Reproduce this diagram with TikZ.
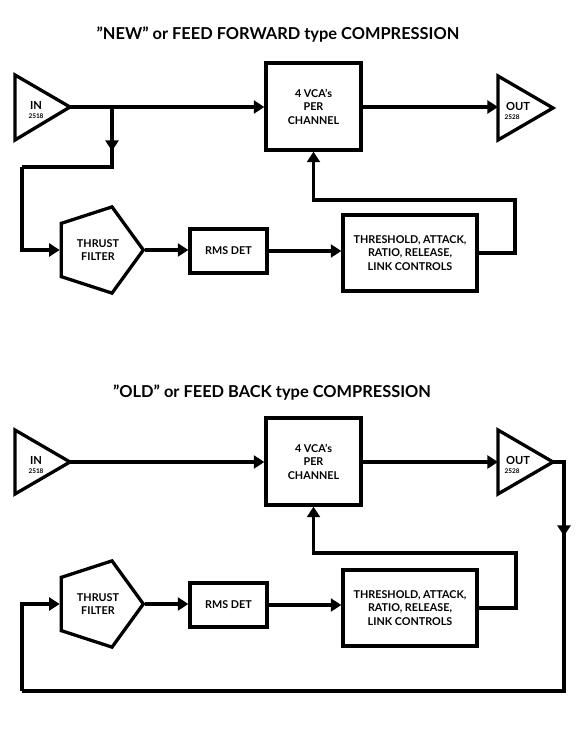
\documentclass[tikz,border=0pt]{standalone}
\usepackage{fontspec}
\setmainfont{Lato}
\usetikzlibrary{arrows.meta,shapes.geometric}

\begin{document}
\begin{tikzpicture}[x=0.03cm, y=-0.03cm, line width=2.8pt,
    flow/.style={-{Triangle[length=9pt,width=11pt]}},
    block/.style={rectangle, draw, fill=white, inner sep=0pt, align=center,
      font=\fontsize{9.2}{11.5}\selectfont\bfseries},
    filter/.style={regular polygon, regular polygon sides=5, shape border rotate=-90,
      draw, inner sep=0pt, minimum size=2.72cm, align=center,
      font=\fontsize{9.2}{11.5}\selectfont\bfseries},
    amplabel/.style={inner sep=0pt, align=center, font=\fontsize{9.5}{9}\selectfont\bfseries},
    heading/.style={font=\fontsize{14}{16}\selectfont\bfseries}]
  \useasboundingbox (0,0) rectangle (580,731);

  % feed forward
  \node[heading] (title1) at (278,35) {”NEW” or FEED FORWARD type COMPRESSION};
  \draw (15,75) -- (70,107) -- (15,140) -- cycle;
  \node[amplabel] (in1) at (36,110) {IN\\[-2pt]{\fontsize{5.5}{5}\selectfont 2518}};
  \coordinate (in1tip) at (70,107);
  \draw (498,76) -- (553,108) -- (498,140) -- cycle;
  \node[amplabel] (out1) at (518,111) {OUT\\[-2pt]{\fontsize{5.5}{5}\selectfont\hspace*{-10pt}2528}};
  \coordinate (out1in) at (498,107);
  \node[block, minimum width=2.85cm, minimum height=2.61cm] (vca1) at (313.5,106.5) {4 VCA’s\\PER\\CHANNEL};
  \node[filter] (filt1) at (98,250) {THRUST\\FILTER};
  \node[block, minimum width=2.31cm, minimum height=1.32cm] (rms1) at (228.5,251) {RMS DET};
  \node[block, minimum width=4.02cm, minimum height=2.28cm] (thr1) at (410,253) {THRESHOLD, ATTACK,\\RATIO, RELEASE,\\LINK CONTROLS};
  \coordinate (br1) at (112,107);
  \coordinate (bend1) at (22,167);
  \coordinate (fb1) at (515,200);

  \draw[flow] (in1tip) -- (in1tip -| vca1.west);
  \draw[flow] (vca1.east |- out1in) -- (out1in);
  \draw (br1) |- (bend1);
  \draw[flow] (br1) -- ++(0,44);
  \draw[flow] (bend1) |- (filt1.west);
  \draw[flow] (filt1.east) -- (filt1.east -| rms1.west);
  \draw[flow] (rms1.east) -- (rms1.east -| thr1.west);
  \draw[flow] (thr1.east) -| (fb1) -| (vca1.south);

  % feed back
  \node[heading] (title2) at (272,393) {”OLD” or FEED BACK type COMPRESSION};
  \draw (15,430) -- (70,462) -- (15,494) -- cycle;
  \node[amplabel] (in2) at (36,465) {IN\\[-2pt]{\fontsize{5.5}{5}\selectfont 2518}};
  \coordinate (in2tip) at (70,462);
  \draw (498,430) -- (553,462) -- (498,494) -- cycle;
  \node[amplabel] (out2) at (518,465) {OUT\\[-2pt]{\fontsize{5.5}{5}\selectfont\hspace*{-10pt}2528}};
  \coordinate (out2in) at (498,462);
  \coordinate (out2tip) at (553,462);
  \node[block, minimum width=2.85cm, minimum height=2.61cm] (vca2) at (313.5,461.5) {4 VCA’s\\PER\\CHANNEL};
  \node[filter] (filt2) at (98,604) {THRUST\\FILTER};
  \node[block, minimum width=2.31cm, minimum height=1.32cm] (rms2) at (228.5,605) {RMS DET};
  \node[block, minimum width=4.02cm, minimum height=2.28cm] (thr2) at (410,608) {THRESHOLD, ATTACK,\\RATIO, RELEASE,\\LINK CONTROLS};
  \coordinate (lp2a) at (564,691);
  \coordinate (lp2b) at (22,691);
  \coordinate (fb2) at (516,553);

  \draw[flow] (in2tip) -- (in2tip -| vca2.west);
  \draw[flow] (vca2.east |- out2in) -- (out2in);
  \draw (out2tip) -| (lp2a) -- (lp2b);
  \draw[flow] (out2tip -| lp2a) -- ++(0,74);
  \draw[flow] (lp2b) |- (filt2.west);
  \draw[flow] (filt2.east) -- (filt2.east -| rms2.west);
  \draw[flow] (rms2.east) -- (rms2.east -| thr2.west);
  \draw[flow] (thr2.east) -| (fb2) -| (vca2.south);
\end{tikzpicture}
\end{document}
